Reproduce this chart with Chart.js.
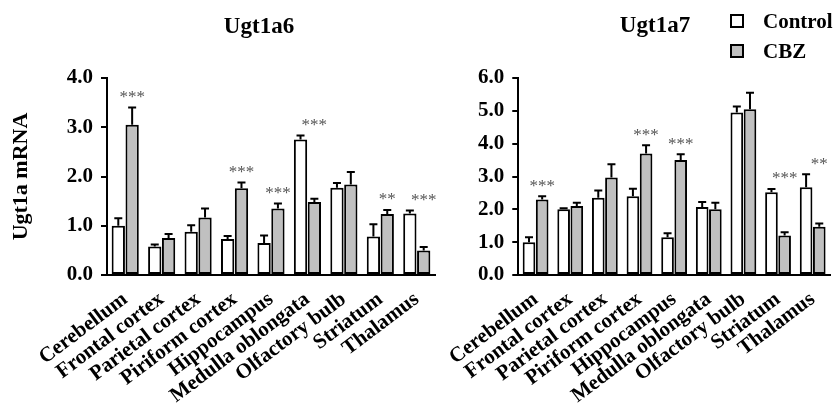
<!DOCTYPE html>
<html>
<head>
<meta charset="utf-8">
<script src="https://cdn.jsdelivr.net/npm/chart.js@4/dist/chart.umd.min.js"></script>
<style>
    html, body { margin: 0; padding: 0; background: #fff; }
    #wrap { position: relative; width: 838px; height: 413px; overflow: hidden; }
    #c1 { position: absolute; left: 0; top: 0; }
    #c2 { position: absolute; left: 445px; top: 0; }
</style>
</head>
<body>
<div id="wrap">
    <canvas id="c1" width="445" height="413" style="width:445px;height:413px"></canvas>
    <canvas id="c2" width="393" height="413" style="width:393px;height:413px"></canvas>
</div>
<script>
// Ugt1a6 / Ugt1a7 mRNA in brain regions, Control vs CBZ

const regions = ['Cerebellum', 'Frontal cortex', 'Parietal cortex', 'Piriform cortex', 'Hippocampus',
    'Medulla oblongata', 'Olfactory bulb', 'Striatum', 'Thalamus'];

const ugt1a6Control = [1.00, 0.58, 0.88, 0.73, 0.65, 2.75, 1.77, 0.78, 1.25];
const ugt1a6ControlErr = [0.15, 0.04, 0.13, 0.06, 0.15, 0.08, 0.10, 0.25, 0.06];
const ugt1a6Cbz = [3.05, 0.75, 1.17, 1.76, 1.35, 1.48, 1.84, 1.24, 0.50];
const ugt1a6CbzErr = [0.35, 0.08, 0.18, 0.12, 0.10, 0.07, 0.25, 0.08, 0.07];
const ugt1a6Sig = ['***', '', '', '***', '***', '***', '', '**', '***'];

const ugt1a7Control = [1.00, 2.00, 2.35, 2.40, 1.15, 2.07, 4.95, 2.52, 2.67];
const ugt1a7ControlErr = [0.15, 0.03, 0.22, 0.23, 0.12, 0.15, 0.18, 0.10, 0.40];
const ugt1a7Cbz = [2.30, 2.10, 2.97, 3.70, 3.50, 2.00, 5.05, 1.20, 1.47];
const ugt1a7CbzErr = [0.10, 0.10, 0.40, 0.25, 0.18, 0.20, 0.50, 0.10, 0.10];
const ugt1a7Sig = ['***', '', '', '***', '***', '', '', '***', '**'];

const yTicks6 = [0, 1, 2, 3, 4];
const yTicks7 = [0, 1, 2, 3, 4, 5, 6];

const serif = '"Liberation Serif", "Times New Roman", serif';
const grayFill = '#c0c0c0';

// upward-only error bars
const errorBars = {
    id: 'errorBars',
    afterDatasetsDraw(chart) {
        const ctx = chart.ctx;
        const y = chart.scales.y;
        ctx.save();
        ctx.strokeStyle = '#000';
        ctx.lineWidth = 2;
        chart.data.datasets.forEach((ds, i) => {
            chart.getDatasetMeta(i).data.forEach((bar, j) => {
                const top = y.getPixelForValue(ds.data[j]);
                const end = y.getPixelForValue(ds.data[j] + ds.err[j]);
                ctx.beginPath();
                ctx.moveTo(bar.x, top);
                ctx.lineTo(bar.x, end);
                ctx.moveTo(bar.x - 4, end);
                ctx.lineTo(bar.x + 4, end);
                ctx.stroke();
            });
        });
        ctx.restore();
    }
};

// significance stars over the CBZ bar
const stars = {
    id: 'stars',
    afterDatasetsDraw(chart) {
        const ctx = chart.ctx;
        const y = chart.scales.y;
        const [c, t] = chart.data.datasets;
        const sig = chart.config.options.sig;
        ctx.save();
        ctx.fillStyle = '#555';
        ctx.font = '17px ' + serif;
        ctx.textAlign = 'center';
        ctx.textBaseline = 'middle';
        chart.getDatasetMeta(1).data.forEach((bar, j) => {
            if (!sig[j]) return;
            const hi = Math.max(c.data[j] + c.err[j], t.data[j] + t.err[j]);
            ctx.fillText(sig[j], bar.x, y.getPixelForValue(hi) - 10);
        });
        ctx.restore();
    }
};

const headings = {
    id: 'headings',
    afterDraw(chart) {
        const ctx = chart.ctx;
        const o = chart.config.options.heading;
        ctx.save();
        ctx.fillStyle = '#000';
        ctx.font = 'bold 23px ' + serif;
        ctx.textAlign = 'center';
        ctx.textBaseline = 'alphabetic';
        ctx.fillText(o.text, o.x, o.y);
        if (o.legend) {
            ctx.font = 'bold 21px ' + serif;
            ctx.textAlign = 'left';
            chart.data.datasets.forEach((ds, i) => {
                const by = 15 + i * 30;
                ctx.fillStyle = ds.backgroundColor;
                ctx.fillRect(286, by, 12, 12);
                ctx.strokeStyle = '#000';
                ctx.lineWidth = 2;
                ctx.strokeRect(286, by, 12, 12);
                ctx.fillStyle = '#000';
                ctx.fillText(ds.label, 318, by + 13);
            });
        }
        ctx.restore();
    }
};

function makeChart(id, ctrl, ctrlErr, cbz, cbzErr, sig, ticks, cfg) {
    return new Chart(document.getElementById(id), {
        type: 'bar',
        data: {
            labels: regions,
            datasets: [
                { label: 'Control', data: ctrl, err: ctrlErr, backgroundColor: '#ffffff' },
                { label: 'CBZ', data: cbz, err: cbzErr, backgroundColor: grayFill }
            ].map(d => Object.assign(d, {
                borderColor: '#000', borderWidth: 2, borderSkipped: false,
                categoryPercentage: 0.76, barPercentage: 0.96
            }))
        },
        options: {
            responsive: false,
            animation: false,
            sig: sig,
            heading: cfg.heading,
            layout: { padding: { top: 78, right: cfg.padRight, left: 0, bottom: 0 } },
            plugins: { legend: { display: false }, tooltip: { enabled: false } },
            scales: {
                x: {
                    grid: { display: false },
                    border: { display: true, color: '#000', width: 2 },
                    ticks: {
                        color: '#000', autoSkip: false, minRotation: 37, maxRotation: 37, padding: 4,
                        font: { family: serif, size: 21, weight: 'bold' }
                    },
                    afterFit(s) { s.height = 138; }
                },
                y: {
                    min: ticks[0],
                    max: ticks[ticks.length - 1],
                    afterBuildTicks(s) { s.ticks = ticks.map(v => ({ value: v })); },
                    ticks: {
                        color: '#000', padding: 8,
                        callback: v => v.toFixed(1),
                        font: { family: serif, size: 21, weight: 'bold' }
                    },
                    grid: { drawOnChartArea: false, drawTicks: true, tickLength: 6, color: '#000', lineWidth: 2 },
                    border: { display: true, color: '#000', width: 2 },
                    title: {
                        display: cfg.yTitle,
                        text: 'Ugt1a mRNA',
                        color: '#000',
                        padding: { top: 8, bottom: 0 },
                        font: { family: serif, size: 22, weight: 'bold' }
                    },
                    afterFit(s) { s.width = cfg.yWidth; }
                }
            }
        },
        plugins: [errorBars, stars, headings]
    });
}

makeChart('c1', ugt1a6Control, ugt1a6ControlErr, ugt1a6Cbz, ugt1a6CbzErr, ugt1a6Sig, yTicks6, {
    padRight: 10, yWidth: 107, yTitle: true,
    heading: { text: 'Ugt1a6', x: 259, y: 33, legend: false }
});

makeChart('c2', ugt1a7Control, ugt1a7ControlErr, ugt1a7Cbz, ugt1a7CbzErr, ugt1a7Sig, yTicks7, {
    padRight: 8, yWidth: 55, yTitle: false,
    heading: { text: 'Ugt1a7', x: 210, y: 32, legend: true }
});
</script>
</body>
</html>
